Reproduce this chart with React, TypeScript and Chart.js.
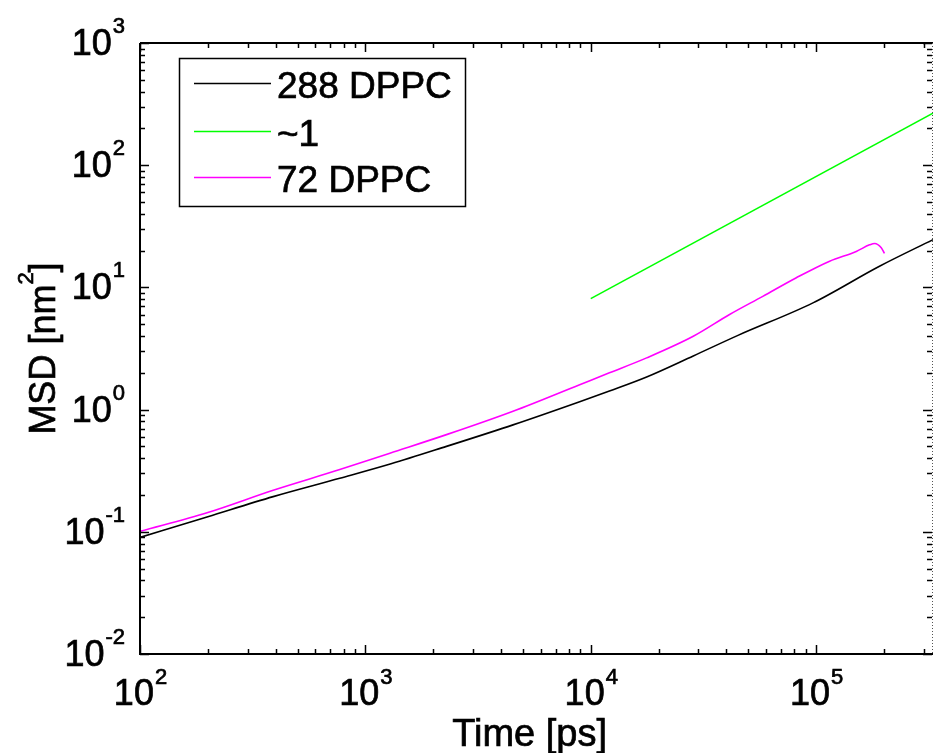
import React, { useEffect, useRef } from "react";
import { Chart, registerables } from "chart.js";
Chart.register(...registerables);

// Data (time in ps, MSD in nm^2)
const dppc288Time = [100, 200, 390, 770, 1300, 2290, 4520, 8930, 12100, 17700, 28500, 45000, 96800, 191000, 330000];
const dppc288Msd = [0.09, 0.133, 0.194, 0.274, 0.36, 0.5, 0.75, 1.16, 1.42, 1.85, 2.75, 4.05, 7.47, 14.9, 24.6];

const slopeTime = [10000, 330000];
const slopeMsd = [8.1, 267];

const dppc72Time = [100, 200, 390, 770, 1285, 2290, 4520, 8930, 12100, 17700, 28500, 41300, 58000, 81700, 114800, 150700, 172600, 182000, 194500, 201000];
const dppc72Msd = [0.101, 0.144, 0.219, 0.323, 0.44, 0.624, 0.97, 1.6, 2.0, 2.65, 3.98, 6.0, 8.45, 12.0, 16.4, 19.7, 22.3, 22.9, 21.1, 19.0];

const seriesLabels = ["288 DPPC", "~1", "72 DPPC"];
const seriesColors = ["#000000", "#00ff00", "#ff00ff"];

const xMin = 100;
const xMax = 330000;
const yMin = 0.01;
const yMax = 1000;
const xDecades = [2, 3, 4, 5];
const yDecades = [-2, -1, 0, 1, 2, 3];

const toPoints = (t: number[], v: number[]) => t.map((x, i) => ({ x, y: v[i] }));

const FONT = "Liberation Sans, Arial, sans-serif";

function heavyText(ctx: CanvasRenderingContext2D, s: string, x: number, y: number) {
  ctx.fillText(s, x, y);
  ctx.strokeText(s, x, y);
}

const matlabPlugin = {
  id: "matlabAxes",
  afterDraw(chart: any) {
    const ctx = chart.ctx as CanvasRenderingContext2D;
    const { left, right, top, bottom } = chart.chartArea;
    const xs = chart.scales.x;
    const ys = chart.scales.y;
    ctx.save();
    ctx.strokeStyle = "#000";
    ctx.fillStyle = "#000";
    ctx.lineWidth = 2;
    ctx.beginPath();
    ctx.moveTo(left, top);
    ctx.lineTo(left, bottom);
    ctx.lineTo(right, bottom);
    ctx.moveTo(left, top);
    ctx.lineTo(right, top);
    ctx.stroke();
    ctx.save();
    ctx.strokeStyle = "#555";
    ctx.lineWidth = 1;
    ctx.setLineDash([1, 2]);
    ctx.beginPath();
    ctx.moveTo(right - 0.5, top);
    ctx.lineTo(right - 0.5, bottom);
    ctx.stroke();
    ctx.restore();

    const major = 9;
    const minor = 5;
    ctx.lineWidth = 1.5;
    ctx.beginPath();
    for (const d of xDecades) {
      for (let k = 1; k <= 9; k++) {
        const v = k * Math.pow(10, d);
        if (v < xMin || v > xMax) continue;
        const px = Math.round(xs.getPixelForValue(v)) + 0.5;
        const len = k === 1 ? major : minor;
        ctx.moveTo(px, bottom);
        ctx.lineTo(px, bottom - len);
        ctx.moveTo(px, top);
        ctx.lineTo(px, top + len);
      }
    }
    for (const d of yDecades) {
      for (let k = 1; k <= 9; k++) {
        const v = k * Math.pow(10, d);
        if (v < yMin || v > yMax) continue;
        const py = Math.round(ys.getPixelForValue(v)) + 0.5;
        const len = k === 1 ? major : minor;
        ctx.moveTo(left, py);
        ctx.lineTo(left + len, py);
        ctx.moveTo(right - 1, py);
        ctx.lineTo(right - 1 - len, py);
      }
    }
    ctx.stroke();

    const baseFont = `36px ${FONT}`;
    const expFont = `22px ${FONT}`;
    ctx.lineWidth = 0.7;
    ctx.strokeStyle = "#000";
    ctx.textAlign = "left";
    ctx.textBaseline = "alphabetic";
    for (const d of xDecades) {
      const px = xs.getPixelForValue(Math.pow(10, d));
      ctx.font = baseFont;
      const wb = ctx.measureText("10").width;
      ctx.font = expFont;
      const e = String(d);
      const we = ctx.measureText(e).width;
      const x0 = px - (wb + we) / 2;
      ctx.font = baseFont;
      heavyText(ctx, "10", x0, 705);
      ctx.font = expFont;
      heavyText(ctx, e, x0 + wb + 1, 684);
    }
    for (const d of yDecades) {
      const py = ys.getPixelForValue(Math.pow(10, d));
      ctx.font = baseFont;
      const wb = ctx.measureText("10").width;
      ctx.font = expFont;
      const e = String(d);
      const we = ctx.measureText(e).width;
      const x0 = 125 - (wb + we + 1);
      ctx.font = baseFont;
      heavyText(ctx, "10", x0, py + 12);
      ctx.font = expFont;
      heavyText(ctx, e, x0 + wb + 1, py - 10);
    }

    // x title
    ctx.font = `38px ${FONT}`;
    ctx.textAlign = "right";
    heavyText(ctx, "Time [ps]", 607, 746);

    // y title rotated with superscript
    ctx.save();
    ctx.translate(55, (top + bottom) / 2);
    ctx.rotate(-Math.PI / 2);
    ctx.textAlign = "left";
    ctx.font = baseFont;
    const p1 = "MSD [nm";
    const p3 = "]";
    const w1 = ctx.measureText(p1).width;
    const w3 = ctx.measureText(p3).width;
    ctx.font = expFont;
    const w2 = ctx.measureText("2").width;
    const tot = w1 + w2 + w3;
    let cx = -tot / 2;
    ctx.font = baseFont;
    heavyText(ctx, p1, cx, 0);
    cx += w1;
    ctx.font = expFont;
    heavyText(ctx, "2", cx, -22);
    cx += w2;
    ctx.font = baseFont;
    heavyText(ctx, p3, cx, 0);
    ctx.restore();

    // legend
    ctx.fillStyle = "#fff";
    ctx.fillRect(179, 58, 286, 148);
    ctx.strokeStyle = "#000";
    ctx.lineWidth = 1.5;
    ctx.strokeRect(179.5, 58.5, 286, 148);
    const rows = [83, 131, 177];
    chart.data.datasets.forEach((ds: any, i: number) => {
      const y = rows[i] + 0.5;
      ctx.strokeStyle = ds.borderColor;
      ctx.lineWidth = 1.6;
      ctx.beginPath();
      ctx.moveTo(194, y);
      ctx.lineTo(271, y);
      ctx.stroke();
      ctx.fillStyle = "#000";
      ctx.strokeStyle = "#000";
      ctx.lineWidth = 0.7;
      ctx.font = `37px ${FONT}`;
      ctx.textAlign = "left";
      heavyText(ctx, ds.label, 277, rows[i] + 15);
    });
    ctx.restore();
  },
};

export default function App() {
  const ref = useRef<HTMLCanvasElement | null>(null);
  useEffect(() => {
    document.body.style.margin = "0";
    const canvas = ref.current!;
    const common = { borderWidth: 1.6, pointRadius: 0, fill: false, cubicInterpolationMode: "monotone" };
    const chart = new Chart(canvas, {
      type: "line",
      data: {
        datasets: [
          { label: seriesLabels[0], data: toPoints(dppc288Time, dppc288Msd), borderColor: seriesColors[0], ...common },
          { label: seriesLabels[1], data: toPoints(slopeTime, slopeMsd), borderColor: seriesColors[1], ...common },
          { label: seriesLabels[2], data: toPoints(dppc72Time, dppc72Msd), borderColor: seriesColors[2], ...common },
        ],
      },
      options: {
        responsive: false,
        animation: false,
        devicePixelRatio: 1,
        layout: { padding: { left: 140, right: 1, top: 43, bottom: 99 } },
        plugins: { legend: { display: false }, tooltip: { enabled: false } },
        scales: {
          x: {
            type: "logarithmic",
            min: xMin,
            max: xMax,
            ticks: { display: false },
            grid: { display: false },
            border: { display: false },
            afterFit: (s: any) => { s.height = 0; },
          },
          y: {
            type: "logarithmic",
            min: yMin,
            max: yMax,
            ticks: { display: false },
            grid: { display: false },
            border: { display: false },
            afterFit: (s: any) => { s.width = 0; },
          },
        },
      },
      plugins: [matlabPlugin],
    } as any);
    return () => chart.destroy();
  }, []);
  return (
    <div style={{ position: "fixed", left: 0, top: 0, width: 934, height: 753, background: "#fff" }}>
      <canvas ref={ref} width={934} height={753} style={{ display: "block" }} />
    </div>
  );
}
